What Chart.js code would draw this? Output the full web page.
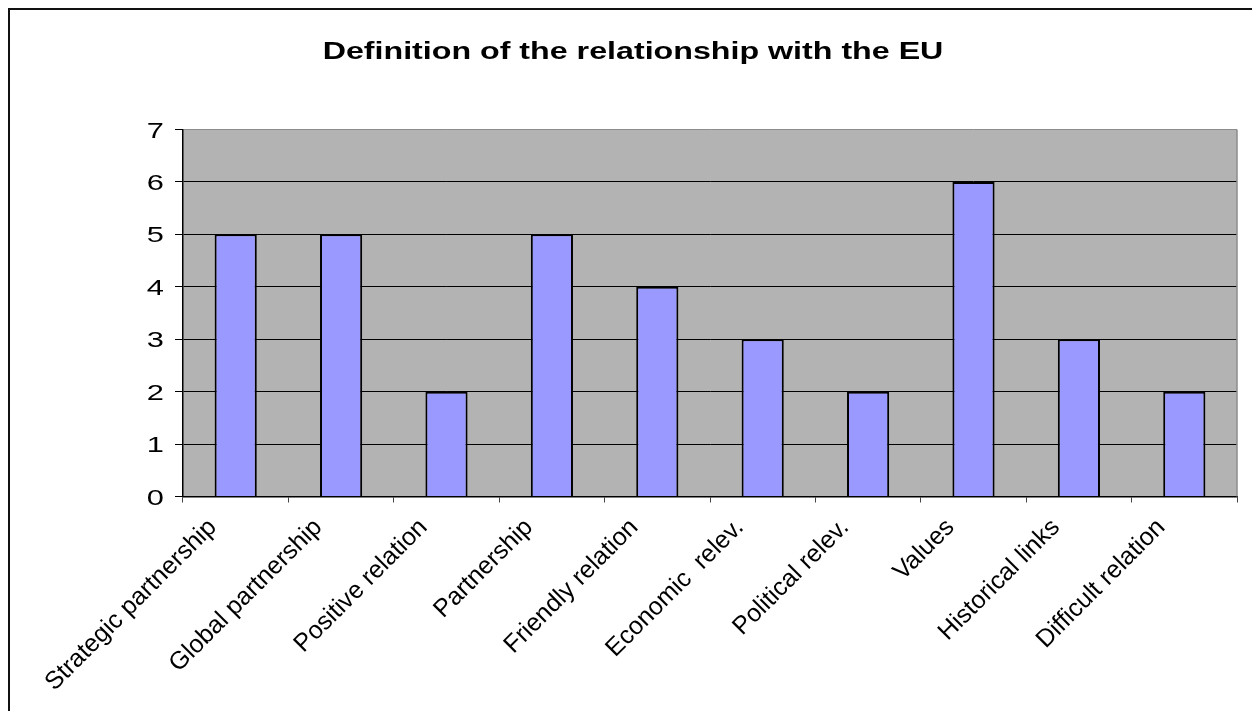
<!DOCTYPE html>
<html><head><meta charset="utf-8">
<script src="https://cdn.jsdelivr.net/npm/chart.js@4"></script>
<style>
html,body{margin:0;padding:0;background:#fff;overflow:hidden}
#wrap{position:relative;width:1252px;height:711px}
#frame{position:absolute;left:8px;top:8px;width:1300px;height:800px;border-left:2px solid #111;border-top:2px solid #111;pointer-events:none}
canvas{position:absolute;left:0;top:0}
</style></head><body>
<div id="wrap"><canvas id="c" width="1252" height="711"></canvas><div id="frame"></div></div>
<script>
const chartTitle = 'Definition of the relationship with the EU';
const categories = ['Strategic partnership','Global partnership','Positive relation','Partnership','Friendly relation','Economic  relev.','Political relev.','Values','Historical links','Difficult relation'];
const values = [5,5,2,5,4,3,2,6,3,2];
const yTicks = [0,1,2,3,4,5,6,7];

const FONT = '"Liberation Sans", Arial, sans-serif';
const STRETCH = 1.4;

const bgPlugin = {
  id:'bg',
  beforeDraw(chart){
    const {ctx, chartArea:a} = chart;
    ctx.save();
    ctx.fillStyle = '#B3B3B3';
    ctx.fillRect(a.left, a.top, a.right-a.left, a.bottom-a.top);
    ctx.restore();
  },
  afterDraw(chart){
    const {ctx, chartArea:a} = chart;
    ctx.save();
    ctx.strokeStyle = '#8c8c8c';
    ctx.lineWidth = 1.5;
    ctx.beginPath();
    ctx.moveTo(a.right, a.top);
    ctx.lineTo(a.right, a.bottom);
    ctx.stroke();
    ctx.restore();
  }
};

const textPlugin = {
  id:'texts',
  afterDraw(chart){
    const ctx = chart.ctx;
    const xs = chart.scales.x, ys = chart.scales.y;
    ctx.save();
    ctx.fillStyle = '#000';
    // title
    ctx.font = 'bold 23px ' + FONT;
    ctx.textAlign = 'center';
    ctx.textBaseline = 'alphabetic';
    ctx.save();
    ctx.translate(633, 59);
    ctx.scale(STRETCH, 1);
    ctx.fillText(chartTitle, 0, 0);
    ctx.restore();
    // y labels
    ctx.font = '22px ' + FONT;
    ctx.textAlign = 'right';
    yTicks.forEach(v => {
      const y = ys.getPixelForValue(v);
      ctx.save();
      ctx.translate(ys.right - 19, y + 8);
      ctx.scale(STRETCH, 1);
      ctx.fillText(String(v), 0, 0);
      ctx.restore();
    });
    // x labels
    ctx.font = '25px ' + FONT;
    ctx.textAlign = 'right';
    ctx.textBaseline = 'middle';
    categories.forEach((lab, i) => {
      const x = xs.getPixelForTick(i);
      ctx.save();
      ctx.translate(x - 23, xs.top + 27);
      ctx.rotate(-Math.PI/4);
      ctx.fillText(lab, 0, 0);
      ctx.restore();
    });
    ctx.restore();
  }
};

new Chart(document.getElementById('c'), {
  type:'bar',
  data:{labels:categories, datasets:[{data:values, backgroundColor:'#9999FF', borderColor:'#000', borderWidth:2, barPercentage:0.4, categoryPercentage:1}]},
  options:{
    responsive:false, animation:false, devicePixelRatio:1,
    layout:{padding:{top:129.5, right:15, left:0, bottom:0}},
    plugins:{legend:{display:false}, title:{display:false}, tooltip:{enabled:false}},
    scales:{
      x:{
        grid:{display:true, drawOnChartArea:false, drawTicks:true, tickLength:6, color:'#444', tickColor:'#444', offset:true, lineWidth:1},
        border:{display:true, color:'#000', width:1.5},
        ticks:{display:false},
        afterFit(s){ s.height = 214.5; }
      },
      y:{
        min:0, max:7,
        ticks:{display:false, stepSize:1},
        grid:{color:c => (c.tick && c.tick.value === 7) ? '#8c8c8c' : '#000', tickColor:'#000', lineWidth:1, tickLength:8, drawTicks:true},
        border:{display:true, color:'#000', width:1.5},
        afterFit(s){ s.width = 183; }
      }
    }
  },
  plugins:[bgPlugin, textPlugin]
});
</script>
</body></html>
